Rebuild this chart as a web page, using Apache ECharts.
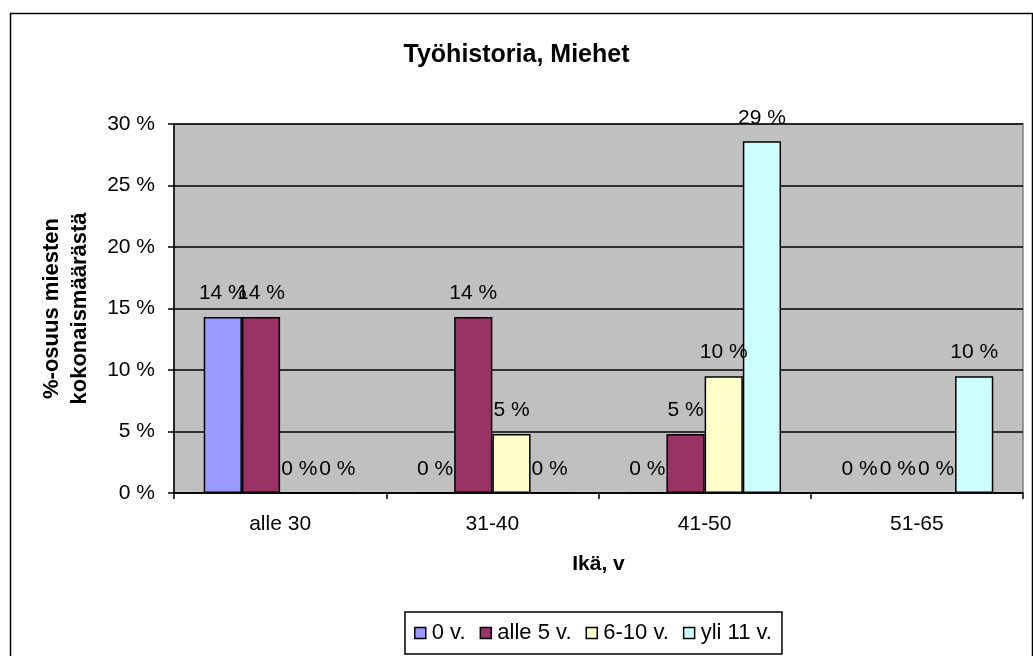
<!DOCTYPE html>
<html>
<head>
<meta charset="utf-8">
<script src="https://cdn.jsdelivr.net/npm/echarts@6/dist/echarts.min.js"></script>
<style>
  html, body { margin: 0; padding: 0; background: #fff; }
  #chart { width: 1033px; height: 656px; }
</style>
</head>
<body>
<div id="chart"></div>
<script>
// ikäryhmät
const categories = ['alle 30', '31-40', '41-50', '51-65']
const seriesNames = ['0 v.', 'alle 5 v.', '6-10 v.', 'yli 11 v.']
// osuudet prosentteina
const val0 = [14.3, 0, 0, 0]
const valAlle5 = [14.3, 14.3, 4.8, 0]
const val6to10 = [0, 4.8, 9.5, 0]
const valYli11 = [0, 0, 28.6, 9.5]
const colors = ['#9999FF', '#993366', '#FFFFCC', '#CCFFFF']

const font = 'Liberation Sans, Arial, sans-serif'
const myEcharts = echarts.init(document.getElementById('chart'))

const makeSeries = (name, data, i) => ({
  name: name,
  type: 'bar',
  data: data,
  barGap: '0%',
  barCategoryGap: '28%',
  itemStyle: { color: colors[i], borderColor: '#000', borderWidth: 1.5 },
  label: {
    show: true,
    position: 'top',
    distance: 13,
    color: '#000',
    fontFamily: font,
    fontSize: 21,
    formatter: (p) => Math.round(p.value) + ' %'
  }
})

const option = {
  animation: false,
  graphic: [
    {
      type: 'rect',
      left: 8, top: 11,
      shape: { width: 1022, height: 660 },
      style: { fill: 'none', stroke: '#000', lineWidth: 1.5 },
      z: -1
    }
  ],
  title: {
    text: 'Työhistoria, Miehet',
    left: 'center',
    top: 38,
    textStyle: { fontFamily: font, fontSize: 25, fontWeight: 'bold', color: '#000' }
  },
  legend: {
    left: 405,
    top: 612,
    padding: [10, 10, 10, 9],
    itemGap: 14,
    itemWidth: 11,
    itemHeight: 11,
    icon: 'rect',
    borderColor: '#000',
    borderWidth: 1.5,
    itemStyle: { borderColor: '#000', borderWidth: 1.5 },
    textStyle: { fontFamily: font, fontSize: 22, color: '#000', padding: [0, 0, 0, 1] },
    data: seriesNames
  },
  grid: {
    left: 174,
    right: 10,
    top: 124,
    bottom: 163,
    show: true,
    backgroundColor: '#C0C0C0',
    borderColor: '#808080',
    borderWidth: 1.5
  },
  xAxis: {
    type: 'category',
    data: categories,
    name: 'Ikä, v',
    nameLocation: 'middle',
    nameGap: 61,
    nameTextStyle: { fontFamily: font, fontSize: 21, fontWeight: 'bold', color: '#000' },
    axisLine: { lineStyle: { color: '#000', width: 1.5 } },
    axisTick: { show: true, length: 6, inside: false, lineStyle: { color: '#000', width: 1.5 } },
    axisLabel: { fontFamily: font, fontSize: 21, color: '#000', margin: 21 }
  },
  yAxis: {
    type: 'value',
    min: 0,
    max: 30,
    interval: 5,
    name: '%-osuus miesten\nkokonaismäärästä',
    nameLocation: 'middle',
    nameRotate: 90,
    nameGap: 80,
    nameTextStyle: { fontFamily: font, fontSize: 22, fontWeight: 'bold', color: '#000', lineHeight: 28 },
    axisLine: { show: true, lineStyle: { color: '#000', width: 1.5 } },
    axisTick: { show: true, length: 6, lineStyle: { color: '#000', width: 1.5 } },
    splitLine: { lineStyle: { color: '#000', width: 1.5 } },
    axisLabel: { fontFamily: font, fontSize: 21, color: '#000', margin: 19, formatter: '{value} %' }
  },
  series: [
    makeSeries(seriesNames[0], val0, 0),
    makeSeries(seriesNames[1], valAlle5, 1),
    makeSeries(seriesNames[2], val6to10, 2),
    makeSeries(seriesNames[3], valYli11, 3)
  ]
}
myEcharts.setOption(option)
</script>
</body>
</html>
